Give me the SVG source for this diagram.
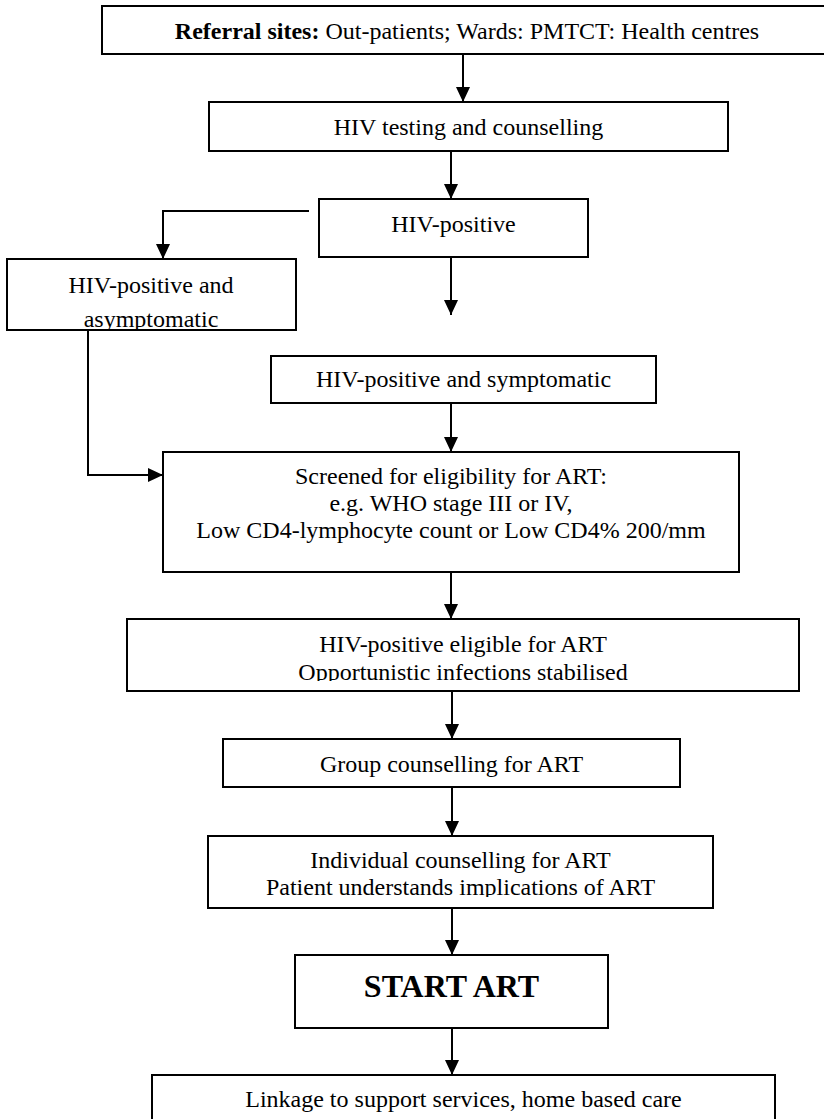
<svg xmlns="http://www.w3.org/2000/svg" width="824" height="1119" viewBox="0 0 824 1119">
<style>
  .box { fill: #ffffff; stroke: #000000; stroke-width: 2; }
  .t { font-size: 24px; fill: #000000; text-anchor: middle; }
  .b { font-weight: bold; }
  .big { font-size: 32px; font-weight: bold; fill: #000000; text-anchor: middle; }
  .edge { fill: none; stroke: #000000; stroke-width: 2; }
</style>
<defs>
  <marker id="arr" markerUnits="userSpaceOnUse" markerWidth="16" markerHeight="16" viewBox="0 0 16 14" refX="15" refY="7" orient="auto">
    <path d="M0,0 L15,7 L0,14 z" fill="#000000"/>
  </marker>
  <clipPath id="c4"><rect x="0" y="259" width="300" height="70"/></clipPath>
  <clipPath id="c7"><rect x="120" y="619" width="690" height="62"/></clipPath>
  <clipPath id="c9"><rect x="200" y="836" width="520" height="61"/></clipPath>
</defs>
<rect width="824" height="1119" fill="#ffffff"/>

<g id="connectors">
  <path class="edge" marker-end="url(#arr)" d="M463,54 L463,102"/>
  <path class="edge" marker-end="url(#arr)" d="M451,151 L451,199"/>
  <path class="edge" marker-end="url(#arr)" d="M309,211 L163,211 L163,259"/>
  <path class="edge" marker-end="url(#arr)" d="M451,257 L451,315"/>
  <path class="edge" marker-end="url(#arr)" d="M451,403 L451,452"/>
  <path class="edge" marker-end="url(#arr)" d="M88,330 L88,475 L163,475"/>
  <path class="edge" marker-end="url(#arr)" d="M451,572 L451,619"/>
  <path class="edge" marker-end="url(#arr)" d="M452,691 L452,739"/>
  <path class="edge" marker-end="url(#arr)" d="M452,787 L452,836"/>
  <path class="edge" marker-end="url(#arr)" d="M452,908 L452,955"/>
  <path class="edge" marker-end="url(#arr)" d="M452,1028 L452,1075"/>
</g>

<g font-family="'Liberation Serif', 'Times New Roman', Times, 'DejaVu Serif', serif">
<g id="referral">
  <rect class="box" x="102" y="6" width="730" height="48"/>
  <text class="t" x="467" y="39"><tspan class="b">Referral sites:</tspan><tspan dx="6">Out-patients; Wards: PMTCT: Health centres</tspan></text>
</g>
<g id="testing">
  <rect class="box" x="209" y="102" width="519" height="49"/>
  <text class="t" x="468.5" y="135">HIV testing and counselling</text>
</g>
<g id="positive">
  <rect class="box" x="319" y="199" width="269" height="58"/>
  <text class="t" x="453.5" y="232">HIV-positive</text>
</g>
<g id="asymptomatic">
  <rect class="box" x="7" y="259" width="289" height="71"/>
  <g clip-path="url(#c4)">
    <text class="t" x="151" y="293">HIV-positive and</text>
    <text class="t" x="151" y="327">asymptomatic</text>
  </g>
</g>
<g id="symptomatic">
  <rect class="box" x="271" y="356" width="385" height="47"/>
  <text class="t" x="463.5" y="387">HIV-positive and symptomatic</text>
</g>
<g id="screened">
  <rect class="box" x="163" y="452" width="576" height="120"/>
  <text class="t" x="451" y="484">Screened for eligibility for ART:</text>
  <text class="t" x="451" y="511">e.g. WHO stage III or IV,</text>
  <text class="t" x="451" y="538">Low CD4-lymphocyte count or Low CD4% 200/mm</text>
</g>
<g id="eligible">
  <rect class="box" x="127" y="619" width="672" height="72"/>
  <g clip-path="url(#c7)">
    <text class="t" x="463" y="652">HIV-positive eligible for ART</text>
    <text class="t" x="463" y="680">Opportunistic infections stabilised</text>
  </g>
</g>
<g id="group">
  <rect class="box" x="223" y="739" width="457" height="48"/>
  <text class="t" x="451.5" y="772">Group counselling for ART</text>
</g>
<g id="individual">
  <rect class="box" x="208" y="836" width="505" height="72"/>
  <g clip-path="url(#c9)">
    <text class="t" x="460.5" y="868">Individual counselling for ART</text>
    <text class="t" x="460.5" y="895">Patient understands implications of ART</text>
  </g>
</g>
<g id="start">
  <rect class="box" x="295" y="955" width="313" height="73"/>
  <text class="big" x="451.5" y="997">START ART</text>
</g>
<g id="linkage">
  <rect class="box" x="152" y="1075" width="623" height="70"/>
  <text class="t" x="463.5" y="1107">Linkage to support services, home based care</text>
</g>
</g>
</svg>
